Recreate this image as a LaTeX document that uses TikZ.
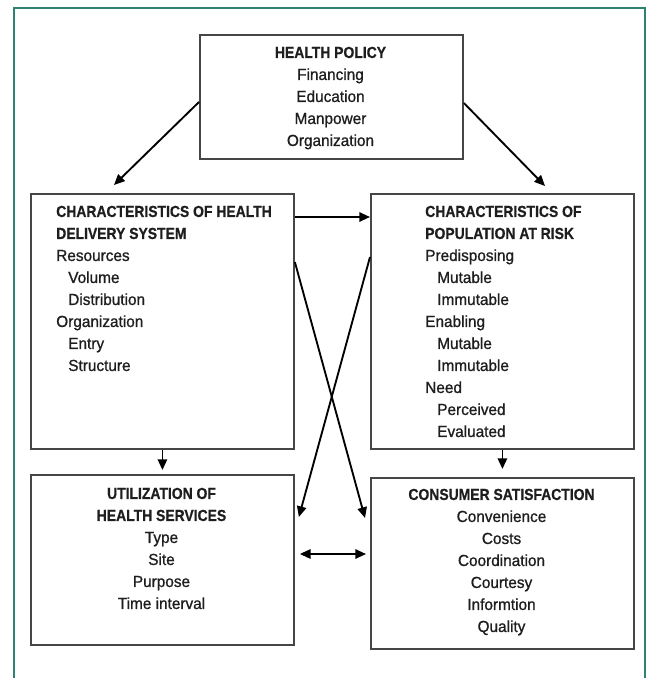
\documentclass[tikz,border=0pt]{standalone}
\usepackage{fontspec}
\setmainfont{Liberation Sans}[FakeStretch=0.96,FakeBold=0.9]
\newfontfamily\hbfont{Liberation Sans}[FakeStretch=0.87,FakeBold=0.6]
\usetikzlibrary{arrows.meta,calc}
\definecolor{frameteal}{RGB}{45,130,115}
\definecolor{boxgray}{RGB}{70,70,70}
\definecolor{ink}{RGB}{30,30,30}
\newcommand{\hd}[1]{{\hbfont\bfseries #1}}
\newcommand{\ind}{\hspace*{9pt}}
\begin{document}
\begin{tikzpicture}[x=0.75pt,y=-0.75pt,
  box/.style={draw=boxgray,line width=1.4pt,inner sep=0pt,anchor=north west,minimum width=197.25pt},
  txt/.style={inner sep=0pt,text=ink,font=\fontsize{12pt}{16.5pt}\selectfont,anchor=north},
  txtl/.style={txt,anchor=north west,align=left},
  arr/.style={line width=1.4pt,draw=black,-{Triangle[length=8pt,width=7pt]}},
  darr/.style={line width=1.4pt,draw=black,{Triangle[length=8pt,width=7pt]}-{Triangle[length=8pt,width=7pt]}}]
\useasboundingbox (0,0) rectangle (651,678);
\fill[white] (0,0) rectangle (651,678);
% frame
\draw[frameteal,line width=1.5pt] (14,678) -- (14,8) -- (645,8) -- (645,678);
% boxes
\node[box,minimum height=93pt] (hp) at (199,34) {};
\node[box,minimum height=191.25pt] (lb) at (30,193) {};
\node[box,minimum height=191.25pt] (rb) at (370,193) {};
\node[box,minimum height=127.5pt] (ub) at (30,474) {};
\node[box,minimum height=128.25pt] (cb) at (370,477) {};
% texts
\node[txt,align=center] (hpt) at (330.5,42.3) {\strut\hd{HEALTH POLICY}\\\strut Financing\\\strut Education\\\strut Manpower\\\strut Organization};
\node[txtl] (lbt) at (56,201.3) {\strut\hd{CHARACTERISTICS OF HEALTH}\\\strut\hd{DELIVERY SYSTEM}\\\strut Resources\\\ind\strut Volume\\\ind\strut Distribution\\\strut Organization\\\ind\strut Entry\\\ind\strut Structure};
\node[txtl] (rbt) at (425,201.3) {\strut\hd{CHARACTERISTICS OF}\\\strut\hd{POPULATION AT RISK}\\\strut Predisposing\\\ind\strut Mutable\\\ind\strut Immutable\\\strut Enabling\\\ind\strut Mutable\\\ind\strut Immutable\\\strut Need\\\ind\strut Perceived\\\ind\strut Evaluated};
\node[txt,align=center] (ubt) at (161.5,483.3) {\strut\hd{UTILIZATION OF}\\\strut\hd{HEALTH SERVICES}\\\strut Type\\\strut Site\\\strut Purpose\\\strut Time interval};
\node[txt,align=center] (cbt) at (501.5,484.3) {\strut\hd{CONSUMER SATISFACTION}\\\strut Convenience\\\strut Costs\\\strut Coordination\\\strut Courtesy\\\strut Informtion\\\strut Quality};
% arrow end points
\coordinate (lt) at (114,185);
\coordinate (rt) at (545,186);
% connectors
\draw[arr] ($(hp.north west)+(0,68)$) -- (lt);
\draw[arr] ($(hp.north east)+(0,69)$) -- (rt);
\draw[arr] ($(lb.north east)+(0,24)$) -- ($(rb.north west)+(0,24)$);
\draw[arr] ($(lb.north east)+(0,69)$) -- ($(cb.north west)+(-5,41)$);
\draw[arr] ($(rb.north west)+(0,64)$) -- ($(ub.north east)+(4,43)$);
\draw[darr] ($(ub.north east)+(5,80)$) -- ($(cb.north west)+(-4,77)$);
\draw[arr] (lb.south) -- ($(ub.north)+(0,-4)$);
\draw[arr] (rb.south) -- ($(cb.north)+(0,-8)$);
\end{tikzpicture}
\end{document}
